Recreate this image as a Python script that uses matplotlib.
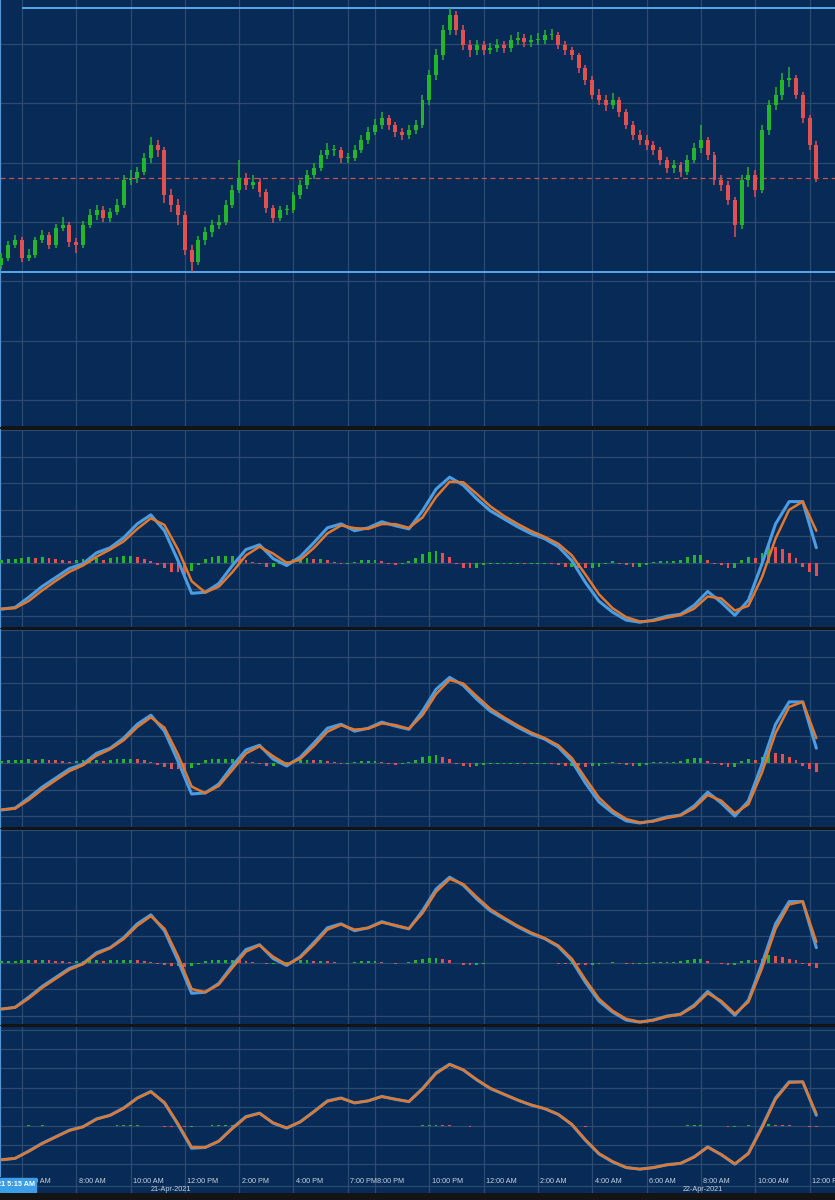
import numpy as np
import pandas as pd
import matplotlib
matplotlib.use("Agg")
import matplotlib.pyplot as plt
from matplotlib.patches import Rectangle

# 15-minute bars, 21-Apr-2021 5:15 AM .. 22-Apr-2021 12:15 PM (5 PM hour is a break)
times = pd.date_range("2021-04-21 05:15", "2021-04-22 12:15", freq="15min")
times = times[times.hour != 17]

closes = [167, 180, 185, 167, 170, 185, 190, 180, 197, 200,
          183, 180, 200, 210, 215, 207, 213, 220, 245, 247,
          253, 267, 280, 275, 230, 220, 210, 175, 163, 185,
          193, 200, 203, 220, 235, 247, 240, 243, 233, 217,
          207, 215, 215, 230, 240, 250, 257, 270, 275, 275,
          267, 267, 275, 285, 293, 300, 307, 300, 293, 290,
          295, 300, 325, 350, 370, 395, 410, 395, 380, 375,
          380, 375, 377, 380, 377, 385, 387, 383, 385, 385,
          390, 390, 380, 375, 370, 357, 345, 330, 325, 320,
          325, 313, 300, 290, 285, 280, 275, 265, 257, 260,
          253, 265, 277, 285, 270, 245, 240, 225, 200, 245,
          250, 235, 295, 320, 330, 345, 347, 330, 307, 280,
          247]
highs = [172, 184, 190, 188, 176, 188, 195, 193, 201, 208,
         203, 187, 204, 216, 220, 219, 217, 226, 250, 255,
         258, 272, 288, 285, 278, 236, 226, 214, 180, 189,
         198, 205, 210, 225, 240, 265, 252, 250, 247, 236,
         220, 219, 220, 233, 245, 255, 262, 275, 282, 280,
         278, 272, 280, 290, 298, 306, 313, 310, 303, 297,
         300, 305, 330, 355, 376, 400, 417, 414, 400, 385,
         385, 384, 382, 386, 384, 390, 393, 391, 390, 392,
         395, 396, 393, 384, 378, 372, 360, 349, 336, 330,
         332, 328, 316, 304, 295, 290, 284, 278, 268, 265,
         263, 270, 282, 300, 288, 273, 250, 244, 228, 250,
         258, 255, 300, 325, 338, 352, 358, 350, 333, 310,
         284]
lows = [156, 164, 177, 163, 164, 167, 182, 176, 177, 194,
        178, 172, 177, 197, 205, 203, 203, 210, 217, 240,
        242, 250, 262, 268, 222, 213, 200, 170, 153, 160,
        180, 188, 196, 200, 217, 232, 235, 236, 228, 212,
        202, 204, 210, 212, 226, 236, 246, 254, 266, 269,
        262, 262, 264, 272, 281, 290, 296, 295, 288, 285,
        286, 291, 297, 320, 345, 365, 390, 390, 375, 368,
        370, 370, 371, 373, 372, 373, 380, 378, 378, 380,
        381, 385, 376, 370, 365, 352, 340, 326, 320, 314,
        316, 308, 296, 285, 280, 275, 270, 260, 252, 252,
        248, 250, 262, 272, 265, 240, 234, 220, 188, 196,
        238, 228, 232, 290, 315, 325, 338, 326, 302, 275,
        243]
first_open = 160

# MACD line (same in all four panes), read every second bar
macd = [-1.76, -1.69, -1.31, -0.90, -0.56, -0.22, -0.04, 0.37, 0.56, 0.94,
        1.46, 1.80, 1.20, 0.07, -1.16, -1.12, -0.79, -0.11, 0.49, 0.67,
        0.15, -0.11, 0.22, 0.75, 1.31, 1.46, 1.20, 1.31, 1.54, 1.39,
        1.27, 1.95, 2.77, 3.22, 2.92, 2.40, 1.95, 1.65, 1.35, 1.09,
        0.90, 0.60, 0.07, -0.75, -1.46, -1.87, -2.17, -2.25, -2.17, -2.02,
        -1.95, -1.61, -1.09, -1.50, -1.99, -1.42, -0.04, 1.46, 2.30, 2.30,
        0.56]
signal1 = [-1.74, -1.72, -1.45, -1.05, -0.69, -0.35, -0.11, 0.22, 0.49, 0.80,
           1.27, 1.67, 1.42, 0.49, -0.70, -1.13, -0.91, -0.36, 0.27, 0.60,
           0.34, -0.01, 0.10, 0.55, 1.10, 1.40, 1.30, 1.27, 1.45, 1.45,
           1.31, 1.70, 2.47, 3.05, 3.03, 2.59, 2.12, 1.76, 1.46, 1.19,
           0.97, 0.71, 0.27, -0.45, -1.20, -1.72, -2.06, -2.22, -2.20, -2.08,
           -1.98, -1.74, -1.28, -1.35, -1.81, -1.63, -0.55, 0.91, 1.99, 2.30,
           1.20]
signal2 = [-1.75, -1.71, -1.39, -0.99, -0.64, -0.30, -0.08, 0.28, 0.52, 0.86,
           1.35, 1.72, 1.33, 0.32, -0.88, -1.13, -0.86, -0.26, 0.36, 0.63,
           0.26, -0.05, 0.15, 0.63, 1.18, 1.42, 1.26, 1.29, 1.49, 1.43,
           1.29, 1.80, 2.59, 3.12, 2.99, 2.51, 2.05, 1.72, 1.42, 1.15,
           0.94, 0.67, 0.19, -0.57, -1.30, -1.78, -2.10, -2.23, -2.19, -2.06,
           -1.97, -1.69, -1.20, -1.41, -1.88, -1.55, -0.35, 1.13, 2.11, 2.30,
           0.94]
signal3 = [-1.75, -1.70, -1.36, -0.95, -0.61, -0.27, -0.06, 0.32, 0.54, 0.89,
           1.39, 1.75, 1.28, 0.22, -1.00, -1.12, -0.83, -0.20, 0.41, 0.65,
           0.22, -0.08, 0.18, 0.68, 1.24, 1.44, 1.24, 1.30, 1.51, 1.41,
           1.28, 1.86, 2.67, 3.16, 2.96, 2.47, 2.01, 1.69, 1.39, 1.13,
           0.92, 0.64, 0.14, -0.65, -1.37, -1.82, -2.13, -2.24, -2.18, -2.04,
           -1.96, -1.66, -1.16, -1.45, -1.93, -1.49, -0.22, 1.27, 2.19, 2.30,
           0.78]
signal4 = [-1.76, -1.69, -1.33, -0.92, -0.58, -0.24, -0.05, 0.35, 0.55, 0.92,
           1.44, 1.78, 1.23, 0.12, -1.10, -1.12, -0.80, -0.14, 0.46, 0.66,
           0.17, -0.10, 0.21, 0.73, 1.28, 1.45, 1.21, 1.31, 1.53, 1.40,
           1.27, 1.92, 2.73, 3.20, 2.93, 2.42, 1.97, 1.66, 1.36, 1.10,
           0.91, 0.61, 0.09, -0.71, -1.43, -1.85, -2.16, -2.25, -2.17, -2.03,
           -1.95, -1.63, -1.11, -1.48, -1.97, -1.45, -0.10, 1.39, 2.26, 2.30,
           0.64]

hist1 = [0.11, 0.15, 0.15, 0.19, 0.22, 0.19, 0.22, 0.19, 0.15, 0.11,
         0.07, 0.11, 0.15, 0.19, 0.19, 0.11, 0.19, 0.22, 0.26, 0.26,
         0.22, 0.15, 0.07, -0.11, -0.22, -0.34, -0.37, -0.45, -0.30, -0.11,
         0.15, 0.22, 0.26, 0.26, 0.26, 0.19, 0.11, 0.04, -0.07, -0.15,
         -0.15, -0.07, 0.07, 0.15, 0.19, 0.19, 0.15, 0.15, 0.11, 0.04,
         -0.07, -0.07, 0.04, 0.11, 0.11, 0.11, 0.07, -0.07, -0.11, -0.07,
         0.07, 0.19, 0.34, 0.41, 0.45, 0.37, 0.22, -0.07, -0.19, -0.22,
         -0.19, -0.11, -0.07, -0.07, -0.04, -0.04, -0.04, -0.07, -0.04, -0.04,
         -0.04, -0.07, -0.11, -0.15, -0.15, -0.19, -0.22, -0.19, -0.15, -0.07,
         0.07, -0.04, -0.11, -0.15, -0.15, -0.11, 0.04, 0.07, 0.07, 0.07,
         0.11, 0.22, 0.30, 0.30, 0.11, -0.07, -0.11, -0.22, -0.22, 0.11,
         0.22, 0.19, 0.37, 0.67, 0.60, 0.52, 0.37, 0.19, -0.15, -0.34,
         -0.49]
hist2 = [0.07, 0.10, 0.10, 0.12, 0.14, 0.12, 0.14, 0.12, 0.10, 0.07,
         0.05, 0.07, 0.10, 0.12, 0.12, 0.07, 0.12, 0.14, 0.17, 0.17,
         0.14, 0.10, 0.05, -0.07, -0.14, -0.22, -0.24, -0.29, -0.20, -0.07,
         0.10, 0.14, 0.17, 0.17, 0.17, 0.12, 0.07, 0.03, -0.05, -0.10,
         -0.10, -0.05, 0.05, 0.10, 0.12, 0.12, 0.10, 0.10, 0.07, 0.03,
         -0.05, -0.05, 0.03, 0.07, 0.07, 0.07, 0.05, -0.05, -0.07, -0.05,
         0.05, 0.12, 0.22, 0.27, 0.29, 0.24, 0.14, -0.05, -0.12, -0.14,
         -0.12, -0.07, -0.05, -0.05, -0.03, -0.03, -0.03, -0.05, -0.03, -0.03,
         -0.03, -0.05, -0.07, -0.10, -0.10, -0.12, -0.14, -0.12, -0.10, -0.05,
         0.05, -0.03, -0.07, -0.10, -0.10, -0.07, 0.03, 0.05, 0.05, 0.05,
         0.07, 0.14, 0.20, 0.20, 0.07, -0.05, -0.07, -0.14, -0.14, 0.07,
         0.14, 0.12, 0.24, 0.44, 0.39, 0.34, 0.24, 0.12, -0.10, -0.22,
         -0.32]
hist3 = [0.04, 0.06, 0.06, 0.08, 0.09, 0.08, 0.09, 0.08, 0.06, 0.04,
         0.03, 0.04, 0.06, 0.08, 0.08, 0.04, 0.08, 0.09, 0.10, 0.10,
         0.09, 0.06, 0.03, -0.04, -0.09, -0.14, -0.15, -0.18, -0.12, -0.04,
         0.06, 0.09, 0.10, 0.10, 0.10, 0.08, 0.04, 0.02, -0.03, -0.06,
         -0.06, -0.03, 0.03, 0.06, 0.08, 0.08, 0.06, 0.06, 0.04, 0.02,
         -0.03, -0.03, 0.02, 0.04, 0.04, 0.04, 0.03, -0.03, -0.04, -0.03,
         0.03, 0.08, 0.14, 0.16, 0.18, 0.15, 0.09, -0.03, -0.08, -0.09,
         -0.08, -0.04, -0.03, -0.03, -0.02, -0.02, -0.02, -0.03, -0.02, -0.02,
         -0.02, -0.03, -0.04, -0.06, -0.06, -0.08, -0.09, -0.08, -0.06, -0.03,
         0.03, -0.02, -0.04, -0.06, -0.06, -0.04, 0.02, 0.03, 0.03, 0.03,
         0.04, 0.09, 0.12, 0.12, 0.04, -0.03, -0.04, -0.09, -0.09, 0.04,
         0.09, 0.08, 0.15, 0.27, 0.24, 0.21, 0.15, 0.08, -0.06, -0.14,
         -0.20]
hist4 = [0.01, 0.02, 0.02, 0.02, 0.03, 0.02, 0.03, 0.02, 0.02, 0.01,
         0.01, 0.01, 0.02, 0.02, 0.02, 0.01, 0.02, 0.03, 0.03, 0.03,
         0.03, 0.02, 0.01, -0.01, -0.03, -0.04, -0.04, -0.05, -0.04, -0.01,
         0.02, 0.03, 0.03, 0.03, 0.03, 0.02, 0.01, 0.00, -0.01, -0.02,
         -0.02, -0.01, 0.01, 0.02, 0.02, 0.02, 0.02, 0.02, 0.01, 0.00,
         -0.01, -0.01, 0.00, 0.01, 0.01, 0.01, 0.01, -0.01, -0.01, -0.01,
         0.01, 0.02, 0.04, 0.05, 0.05, 0.04, 0.03, -0.01, -0.02, -0.03,
         -0.02, -0.01, -0.01, -0.01, 0.00, 0.00, 0.00, -0.01, 0.00, 0.00,
         0.00, -0.01, -0.01, -0.02, -0.02, -0.02, -0.03, -0.02, -0.02, -0.01,
         0.01, 0.00, -0.01, -0.02, -0.02, -0.01, 0.00, 0.01, 0.01, 0.01,
         0.01, 0.03, 0.04, 0.04, 0.01, -0.01, -0.01, -0.03, -0.03, 0.01,
         0.03, 0.02, 0.04, 0.08, 0.07, 0.06, 0.04, 0.02, -0.02, -0.04,
         -0.06]

tick_times = ["2021-04-21 06:00", "2021-04-21 08:00", "2021-04-21 10:00", "2021-04-21 12:00",
              "2021-04-21 14:00", "2021-04-21 16:00", "2021-04-21 19:00", "2021-04-21 20:00",
              "2021-04-21 22:00", "2021-04-22 00:00", "2021-04-22 02:00", "2021-04-22 04:00",
              "2021-04-22 06:00", "2021-04-22 08:00", "2021-04-22 10:00", "2021-04-22 12:00"]
tick_labels = ["6:00 AM", "8:00 AM", "10:00 AM", "12:00 PM", "2:00 PM", "4:00 PM", "7:00 PM",
               "8:00 PM", "10:00 PM", "12:00 AM", "2:00 AM", "4:00 AM", "6:00 AM", "8:00 AM",
               "10:00 AM", "12:00 PM"]
date_labels = ["21-Apr-2021", "22-Apr-2021"]
cursor_label = "21 5:15 AM"

BG = "#072a56"
GRID = "#2d4a70"
GREEN = "#25b52c"
RED = "#e05150"
BLUE = "#4a9de2"
ORANGE = "#e2782e"
EDGE = "#4f95d8"

idx = np.arange(len(times))
opens = np.array([first_open] + closes[:-1])
closes = np.array(closes)
line_idx = idx[::2]
tick_pos = [int(np.where(times == pd.Timestamp(t))[0][0]) for t in tick_times]
XLIM = (-0.22, 122.75)

W, H = 835, 1200
fig = plt.figure(figsize=(W / 100, H / 100), dpi=100, facecolor="#141414")


def px_axes(top, bottom):
    ax = fig.add_axes([0, 1 - bottom / H, 1, (bottom - top) / H])
    ax.set_facecolor(BG)
    ax.set_xlim(*XLIM)
    ax.set_xticks(tick_pos)
    ax.tick_params(length=0, labelbottom=False, labelleft=False)
    ax.grid(True, color=GRID, lw=0.9)
    ax.set_axisbelow(True)
    for s in ["top", "right", "bottom"]:
        ax.spines[s].set_visible(False)
    ax.spines["left"].set_color(EDGE)
    ax.spines["left"].set_linewidth(1.6)
    return ax


# price pane
ax = px_axes(0, 426)
ax.set_ylim(-1, 425)
ax.set_yticks(np.arange(25.2, 425, 59.3))
up = closes >= opens
cols = np.where(up, GREEN, RED)
ax.vlines(idx, lows, highs, colors=cols, lw=1.1, zorder=3)
body = np.maximum(np.abs(closes - opens), 1.5)
ax.bar(idx, body, bottom=np.minimum(opens, closes), width=0.58, color=cols, zorder=4)
ax.hlines(max(highs), 3, XLIM[1], color="#5aa6ea", lw=1.4, zorder=2)
ax.axhline(min(lows), color="#5aa6ea", lw=1.4, zorder=2)
ax.axhline(closes[-1], color="#c9544c", lw=0.9, ls=(0, (4, 3)), zorder=2)

# MACD panes
panes = [(430, 627, signal1, hist1, (-2.43, 4.94)),
         (630, 827, signal2, hist2, (-2.40, 4.98)),
         (830, 1024, signal3, hist3, (-2.32, 4.94)),
         (1027, 1177, signal4, hist4, (-2.66, 5.16))]
for top, bot, sig, hist, ylim in panes:
    ax = px_axes(top, bot)
    ax.set_ylim(*ylim)
    ax.set_yticks(np.arange(-2, 6, 1))
    hist = np.array(hist)
    rising = np.diff(np.concatenate([[hist[0]], hist])) >= 0
    ax.bar(idx, hist, width=0.42, color=np.where(rising, GREEN, RED), zorder=3)
    ax.plot(line_idx, macd, color=BLUE, lw=2.2, zorder=4,
            solid_capstyle="round", solid_joinstyle="round")
    ax.plot(line_idx, sig, color=ORANGE, lw=1.8, zorder=5,
            solid_capstyle="round", solid_joinstyle="round")

# time axis band
axb = fig.add_axes([0, 1 - 1193 / H, 1, 16 / H])
axb.set_facecolor(BG)
axb.set_xlim(*XLIM)
axb.set_ylim(0, 16)
axb.axis("off")
axb.add_patch(Rectangle((XLIM[0], 0), XLIM[1] - XLIM[0], 16, color=BG, zorder=0))
axb.axhline(7, color=GRID, lw=0.9)
for p, lab in zip(tick_pos, tick_labels):
    axb.axvline(p, color=GRID, lw=0.9)
    axb.text(p + 0.35, 11.5, lab, color="#c9d3df", fontsize=5.2, va="center", ha="left",
             family="Liberation Sans")
axb.text(25.0, 3.3, date_labels[0], color="#c9d3df", fontsize=5.2, va="center", ha="center",
         family="Liberation Sans")
axb.text(103.3, 3.3, date_labels[1], color="#c9d3df", fontsize=5.2, va="center", ha="center",
         family="Liberation Sans")
axb.add_patch(Rectangle((XLIM[0], 1.5), 5.35, 13.5, color="#3b9ee6", zorder=5))
axb.text(5.0, 8.3, cursor_label, color="white", fontsize=5.2, fontweight="bold",
         va="center", ha="right", zorder=6, family="Liberation Sans")

fig.savefig("out.png", dpi=100, facecolor=fig.get_facecolor())
